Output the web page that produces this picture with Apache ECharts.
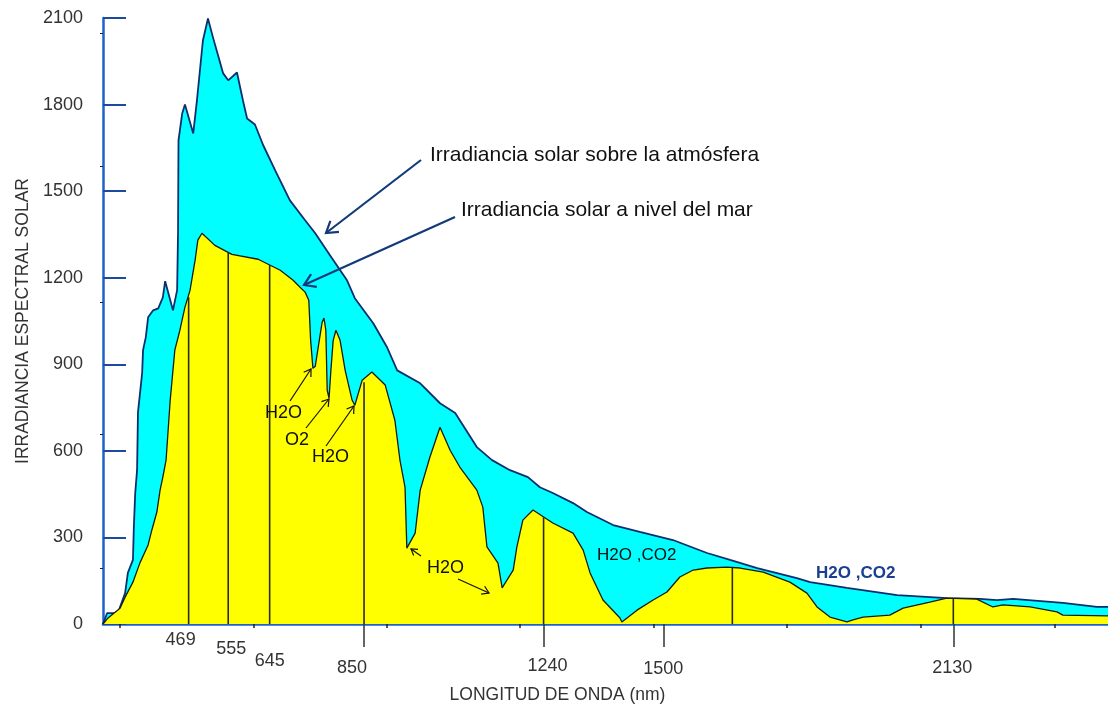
<!DOCTYPE html>
<html><head><meta charset="utf-8">
<script src="https://cdn.jsdelivr.net/npm/echarts@6/dist/echarts.min.js"></script>
<style>html,body{margin:0;padding:0;background:#fff}#c{width:1108px;height:704px}</style>
</head><body><div id="c"></div>
<script>
// Irradiancia solar sobre la atmósfera (nm, W)
const topNm = [283,292,316,320,331,337,348,350,353,357,359,368,370,376,381,392,403,413,418,435,444,446,447,455,461,479,487,500,511,522,533,544,555,574,587,596,613,631,657,689,722,744,776,813,830,870,900,922,972,1015,1048,1095,1128,1167,1206,1232,1260,1304,1334,1391,1449,1521,1595,1645,1704,1790,1819,1899,2008,2116,2188,2225,2260,2368,2442,2466];
const topW  = [0,38,38,59,107,177,222,336,454,533,734,869,949,994,1063,1087,1094,1132,1188,1087,1157,1354,1676,1769,1800,1700,1814,2022,2098,2032,1970,1908,1884,1911,1814,1752,1731,1659,1572,1468,1399,1354,1278,1191,1129,1042,959,879,834,765,731,613,568,533,509,474,454,419,388,343,319,291,246,222,194,159,145,125,100,90,87,83,87,73,59,59];
// Irradiancia solar a nivel del mar (nm, W)
const seaNm = [283,294,320,331,348,363,381,389,400,407,413,420,429,439,450,461,472,483,489,498,526,563,620,668,696,711,722,730,734,739,744,759,763,767,770,774,778,783,789,798,809,824,830,846,867,896,917,928,939,943,961,972,993,1015,1037,1058,1095,1108,1117,1141,1150,1174,1182,1195,1217,1260,1304,1326,1341,1369,1406,1410,1443,1478,1508,1536,1565,1595,1638,1667,1717,1775,1812,1834,1862,1899,1912,1934,1992,2021,2079,2116,2181,2216,2238,2297,2355,2368,2466];
const seaW  = [0,21,55,93,145,211,274,325,388,464,509,568,776,949,1018,1098,1156,1260,1330,1354,1312,1281,1264,1226,1191,1167,1150,1122,983,886,893,1046,1060,1018,810,782,879,983,1018,983,879,776,758,845,873,828,706,568,474,263,315,464,578,682,602,544,464,405,267,211,125,187,267,360,395,350,315,256,177,83,21,7,48,83,111,163,187,194,197,194,180,145,107,59,24,7,14,24,31,55,76,90,86,59,66,59,42,31,28];
// vertical lines (wavelength, height up to sea-level curve)
const markNm = [469,555,645,850,1240,1650,2130];
const markW  = [1132,1288,1243,838,370,194,90];
// axis tick labels (two rows of axes so that neighbours do not collide)
const xLabelsA = [469,645,850,1240,1500,2130];
const xLabelsB = [555];
const xLongTicks   = [850,1240,1500,2130];
const xMinorTicks  = [320,611,900,1189,1480,1769,2060,2351];
const yMinorTicks  = [194,658,1115,1586,2046];

const FONT = 'Liberation Sans, Arial, sans-serif';
const XMIN = 283, XMAX = 2466;
// label styling (offsets in px): value -> [dy, dx]
const labelShift = {469:[0,-8], 555:[9,3], 645:[21,0], 850:[28,-12], 1240:[26,4], 1500:[29,0], 2130:[28,-1]};
const rich = {};
Object.keys(labelShift).forEach(k=>{
  const dy=labelShift[k][0], dx=labelShift[k][1];
  rich['k'+k] = {fontSize:18, lineHeight:18, color:'#333', fontFamily:FONT,
    padding:[2*dy, dx<0? -2*dx:0, 0, dx>0? 2*dx:0]};
});
const fmt = function(v){ return '{k'+v+'|'+v+'}'; };

function arrow(x1,y1,x2,y2,color,w,head){
  const dx=x2-x1, dy=y2-y1, L=Math.hypot(dx,dy), bx=-dx/L, by=-dy/L, a=Math.PI/5.5;
  const c=Math.cos(a), s=Math.sin(a);
  const w1=[x2+head*(bx*c-by*s), y2+head*(bx*s+by*c)];
  const w2=[x2+head*(bx*c+by*s), y2+head*(-bx*s+by*c)];
  return [
    {type:'line', shape:{x1,y1,x2,y2}, style:{stroke:color, lineWidth:w}, z:100},
    {type:'polyline', shape:{points:[w1,[x2,y2],w2]}, style:{stroke:color, lineWidth:w, fill:null}, z:100}
  ];
}
function txt(x,y,t,size,color,weight){
  return {type:'text', x:x, y:y, z:100, style:{text:t, fontSize:size, fontFamily:FONT, fill:color, fontWeight:weight||'normal', verticalAlign:'middle', align:'left'}};
}

const graphics = [].concat(
  arrow(421,160,326,233,'#123a7a',2.2,13),
  arrow(455,217,304,285,'#123a7a',2.2,13),
  arrow(290,401,311,369,'#111',1.2,8),
  arrow(306,428,329,399,'#111',1.2,8),
  arrow(326,446,354,406,'#111',1.2,8),
  arrow(421,556,411,549,'#111',1.2,7),
  arrow(458,579,489,593,'#111',1.2,8),
  [
    txt(430,155,'Irradiancia solar sobre la atmósfera',21,'#111'),
    txt(461,210,'Irradiancia solar a nivel del mar',21,'#111'),
    txt(265,413,'H2O',18,'#111'),
    txt(285,440,'O2',18,'#111'),
    txt(312,457,'H2O',18,'#111'),
    txt(427,568,'H2O',18,'#111'),
    txt(597,555,'H2O ,CO2',17,'#111'),
    txt(816,573,'H2O ,CO2',17,'#1b3f8f','bold')
  ]
);

const chart = echarts.init(document.getElementById('c'), null, {renderer:'canvas'});
chart.setOption({
  animation:false,
  textStyle:{fontFamily:FONT},
  grid:{left:103, right:0, top:18, bottom:80, containLabel:false, outerBoundsMode:'none'},
  xAxis:[
    {type:'value', min:XMIN, max:XMAX, position:'bottom',
     name:'LONGITUD DE ONDA (nm)', nameLocation:'middle', nameGap:62,
     nameTextStyle:{fontSize:17.5, color:'#333', fontFamily:FONT, padding:[0,96,0,0]},
     axisLine:{show:true, onZero:false, lineStyle:{color:'#111', width:2}},
     axisTick:{show:true, customValues:xMinorTicks, length:4, lineStyle:{color:'#222', width:1.5}},
     axisLabel:{show:true, customValues:xLabelsA, margin:7, rich:rich, interval:0,
       hideOverlap:false, showMinLabel:true, showMaxLabel:true, formatter:fmt},
     splitLine:{show:false}},
    {type:'value', min:XMIN, max:XMAX, position:'bottom',
     axisLine:{show:false}, axisTick:{show:true, customValues:xLongTicks, length:23, lineStyle:{color:'#333', width:1.5}},
     axisLabel:{show:true, customValues:xLabelsB, margin:7, rich:rich, interval:0,
       hideOverlap:false, showMinLabel:true, showMaxLabel:true, formatter:fmt},
     splitLine:{show:false}},
    {type:'value', min:XMIN, max:XMAX, position:'top',
     axisLine:{show:true, lineStyle:{color:'#1e62d0', width:2.5}},
     axisTick:{show:true, customValues:xMinorTicks, length:4, lineStyle:{color:'#222', width:1.5}},
     axisLabel:{show:false}, splitLine:{show:false}}
  ],
  yAxis:[
    {type:'value', min:0, max:2100, interval:300, position:'left',
     name:'IRRADIANCIA ESPECTRAL SOLAR', nameLocation:'middle', nameGap:69,
     nameTextStyle:{fontSize:17.5, color:'#333', fontFamily:FONT},
     axisLine:{show:true, lineStyle:{color:'#1e62d0', width:2.5}},
     axisTick:{show:true, inside:true, length:23, lineStyle:{color:'#1b4aa0', width:2}},
     axisLabel:{margin:20, fontSize:18, color:'#333', fontFamily:FONT, formatter:function(v){return String(v);}},
     splitLine:{show:false}},
    {type:'value', min:0, max:2100, position:'left',
     axisLine:{show:false}, axisTick:{show:true, customValues:yMinorTicks, length:3, lineStyle:{color:'#222'}},
     axisLabel:{show:false}, splitLine:{show:false}}
  ],
  series:[
    {type:'line', xAxisIndex:0, yAxisIndex:0, data: topNm.map((x,i)=>[x,topW[i]]),
     symbol:'none', smooth:false, z:2,
     lineStyle:{color:'#0b2f6e', width:1.8}, areaStyle:{color:'#00ffff', opacity:1}},
    {type:'line', xAxisIndex:0, yAxisIndex:0, data: seaNm.map((x,i)=>[x,seaW[i]]),
     symbol:'none', smooth:false, z:3,
     lineStyle:{color:'#1a1a1a', width:1.3}, areaStyle:{color:'#ffff00', opacity:1}},
    {type:'custom', xAxisIndex:0, yAxisIndex:0, z:4, data: markNm.map((x,i)=>[x,markW[i]]),
     renderItem:function(params, api){
       const p0 = api.coord([api.value(0), 0]);
       const p1 = api.coord([api.value(0), api.value(1)]);
       return {type:'line', shape:{x1:p0[0], y1:p0[1], x2:p1[0], y2:p1[1]}, style:{stroke:'#2a2a1a', lineWidth:1.6}};
     }}
  ],
  graphic: graphics
});
</script></body></html>
